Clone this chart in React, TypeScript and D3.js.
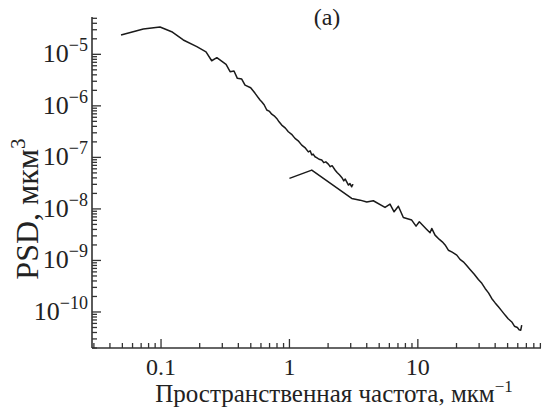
import React from "react";
import * as d3 from "d3";

// Curve 1: low-frequency PSD (spatial frequency, um^-1 ; PSD, um^3)
const freq1 = [0.0488, 0.0728, 0.0982, 0.121, 0.149, 0.19, 0.224, 0.248, 0.272, 0.30, 0.321, 0.345, 0.37, 0.393, 0.425, 0.451, 0.499, 0.54, 0.59, 0.608, 0.635, 0.666, 0.70, 0.728, 0.76, 0.796, 0.83, 0.871, 0.93, 0.98, 1.04, 1.105, 1.17, 1.247, 1.32, 1.403, 1.45, 1.49, 1.53, 1.582, 1.64, 1.70, 1.785, 1.85, 1.92, 2.009, 2.08, 2.15, 2.265, 2.35, 2.45, 2.555, 2.65, 2.72, 2.793, 2.88, 2.96, 3.055, 3.1, 3.146];
const psd1 = [2.37e-5, 3.1e-5, 3.39e-5, 2.75e-5, 1.9e-5, 1.41e-5, 1.12e-5, 7.5e-6, 8.6e-6, 7.2e-6, 6.4e-6, 4.6e-6, 4.74e-6, 3.42e-6, 3.31e-6, 2.53e-6, 2.25e-6, 1.75e-6, 1.3e-6, 1.2e-6, 1.05e-6, 8.3e-7, 7.8e-7, 6.9e-7, 6.4e-7, 5.7e-7, 4.9e-7, 4.24e-7, 3.7e-7, 3.14e-7, 2.8e-7, 2.34e-7, 2.1e-7, 1.73e-7, 1.55e-7, 1.28e-7, 1.34e-7, 1.12e-7, 1.16e-7, 1.03e-7, 9.8e-8, 9.2e-8, 8.9e-8, 7.9e-8, 8.2e-8, 7.4e-8, 6.6e-8, 6.9e-8, 5.7e-8, 5.1e-8, 4.6e-8, 4.09e-8, 3.5e-8, 3.8e-8, 3.36e-8, 2.9e-8, 3.1e-8, 2.69e-8, 2.95e-8, 2.9e-8];

// Curve 2: high-frequency PSD
const freq2 = [1.0, 1.492, 3.055, 3.55, 4.0, 4.5, 5.55, 6.07, 6.53, 7.05, 7.71, 8.96, 9.68, 10.27, 11.73, 12.45, 12.83, 13.61, 14.71, 15.5, 16.3, 17.28, 18.5, 20.1, 21.3, 22.6, 24.0, 25.5, 27.5, 29.6, 31.5, 33.4, 35.5, 37.6, 40.0, 42.4, 45.0, 47.8, 50.5, 53.9, 56.5, 59.6, 61.5, 63.3, 64.4];
const psd2 = [3.91e-8, 5.66e-8, 1.6e-8, 1.48e-8, 1.36e-8, 1.44e-8, 1.07e-8, 1.24e-8, 8.8e-9, 1.13e-8, 6.8e-9, 6.07e-9, 4.64e-9, 5.62e-9, 4.0e-9, 3.44e-9, 4.18e-9, 3.1e-9, 2.56e-9, 2.3e-9, 2.0e-9, 1.58e-9, 1.45e-9, 1.27e-9, 1.05e-9, 9.4e-10, 8.0e-10, 6.7e-10, 5.4e-10, 4.28e-10, 3.6e-10, 2.86e-10, 2.35e-10, 1.83e-10, 1.5e-10, 1.26e-10, 1.05e-10, 8.7e-11, 7.4e-11, 6.4e-11, 5.3e-11, 5.0e-11, 4.5e-11, 4.43e-11, 5.54e-11];

const xMajorTicks = [0.1, 1, 10];
const xTickLabels = ["0.1", "1", "10"];
const yExponents = [-10, -9, -8, -7, -6, -5];

const W = 542, H = 407;
const left = 92, right = 541, top = 17, bottom = 348;
const FONT = "'Liberation Serif', 'DejaVu Serif', serif";

export default function App() {
  const x = d3.scaleLog().domain([0.029, 91]).range([left, right]);
  const y = d3.scaleLog().domain([2e-11, 5.3e-5]).range([bottom, top]);

  const line = d3.line<[number, number]>().x(d => x(d[0])).y(d => y(d[1]));
  const d1 = line(freq1.map((f, i) => [f, psd1[i]] as [number, number])) || "";
  const d2 = line(freq2.map((f, i) => [f, psd2[i]] as [number, number])) || "";

  const xTicks: { v: number; major: boolean }[] = [];
  for (let e = -2; e <= 1; e++) {
    for (let m = 1; m <= 9; m++) {
      const v = m * Math.pow(10, e);
      if (v >= 0.029 && v <= 91) xTicks.push({ v, major: m === 1 });
    }
  }
  const yTicks: { v: number; major: boolean }[] = [];
  for (let e = -11; e <= -5; e++) {
    for (let m = 1; m <= 9; m++) {
      const v = m * Math.pow(10, e);
      if (v >= 2e-11 && v <= 5.3e-5) yTicks.push({ v, major: m === 1 });
    }
  }

  const axisColor = "#333";

  return (
    <svg width={W} height={H} style={{ position: "absolute", left: 0, top: 0, background: "#fff" }} fontFamily={FONT}>
      <line x1={left} y1={top} x2={left} y2={bottom} stroke={axisColor} strokeWidth={1.6} />
      <line x1={left} y1={bottom} x2={right} y2={bottom} stroke={axisColor} strokeWidth={1.6} />
      {xTicks.map((t, i) => (
        <line key={"xt" + i} x1={x(t.v)} x2={x(t.v)} y1={bottom} y2={bottom - (t.major ? 9 : 5)} stroke={axisColor} strokeWidth={1.3} />
      ))}
      {yTicks.map((t, i) => (
        <line key={"yt" + i} x1={left} x2={left + (t.major ? 9 : 5)} y1={y(t.v)} y2={y(t.v)} stroke={axisColor} strokeWidth={1.3} />
      ))}
      {xMajorTicks.map((v, i) => (
        <text key={"xl" + i} x={x(v)} y={375} textAnchor="middle" fontSize={24} fill="#222">{xTickLabels[i]}</text>
      ))}
      {yExponents.map(e => (
        <text key={"yl" + e} x={88} y={y(Math.pow(10, e)) + 8} textAnchor="end" fontSize={26} fill="#222">
          10<tspan fontSize={18} dy={-11}>{"\u2212" + Math.abs(e)}</tspan>
        </text>
      ))}
      <path d={d1} fill="none" stroke="#1a1a1a" strokeWidth={1.5} strokeLinejoin="round" />
      <path d={d2} fill="none" stroke="#1a1a1a" strokeWidth={1.5} strokeLinejoin="round" />
      <text x={327} y={25} textAnchor="middle" fontSize={24} fill="#222">(a)</text>
      <text x={334} y={402} textAnchor="middle" fontSize={25} fill="#222">
        Пространственная частота, мкм<tspan fontSize={17} dy={-10}>{"\u22121"}</tspan>
      </text>
      <text transform="translate(38,209) rotate(-90)" textAnchor="middle" fontSize={32} fill="#222">
        PSD, мкм<tspan fontSize={21} dy={-13}>3</tspan>
      </text>
    </svg>
  );
}
